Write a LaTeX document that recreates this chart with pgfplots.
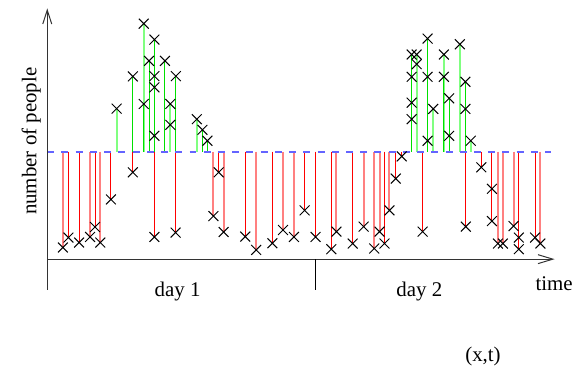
\documentclass[border=0pt]{standalone}
\usepackage{pgfplots}
\pgfplotsset{compat=1.18}
\usepackage{pgfplotstable}
\usepackage{fontspec}
\setmainfont{Liberation Serif}
\usetikzlibrary{arrows.meta}
\definecolor{redS}{HTML}{FF0000}
\definecolor{redL}{HTML}{FF8080}
\definecolor{grnS}{HTML}{00E000}
\definecolor{grnL}{HTML}{80FF80}
\definecolor{thrblue}{RGB}{100,100,255}

% y = 152 - pixel row (threshold at 0)
\pgfplotstableread{
x y
68.3 -86.3
79 -91.3
95 -75.7
111 -48
133 -20.7
154.7 -85.7
176 -81.3
219.3 -20.7
246 -85.3
273.3 -92
305.7 -59
316.7 -85.7
332.5 -98
354 -92.3
386 -92.3
397.3 -27
403.3 -4.7
424.3 -80.3
467.7 -75.3
483.3 -15.7
494 -37.3
494 -69.7
521 -86.3
521 -98
537.3 -86.3
}\redstrong
\pgfplotstableread{
x y
62.7 -96.3
90 -85.7
100.3 -91.3
214 -64.7
224.3 -80.7
257 -98.7
284 -78.7
295 -85.7
337.7 -80.3
365 -75.3
375.7 -97.3
381 -80.3
391 -59
500 -92.3
505 -92.3
515.7 -74.7
542.7 -92.3
}\redlight
\pgfplotstableread{
x y
133 75.7
144 48
149.3 91.3
154.7 112.7
154.7 76
154.7 64.7
154.7 16
165.3 91.3
176.3 76
203 22
208 11
413.3 97.7
413.3 75.3
413.3 49.3
413.3 32.7
429.3 113.7
429.3 75.3
429.3 11
445.7 75.3
451 53.7
451 16
467.3 70.3
467.3 43
}\grnstrong
\pgfplotstableread{
x y
116.7 43.3
144 128.7
170.7 48
170.7 27
197.3 32.7
418.3 97.7
418.3 88
435 43
445.7 97.7
461.7 108
472.7 11
}\grnlight

\begin{document}
\begin{tikzpicture}
\begin{axis}[
  scale only axis, width=576pt, height=369pt,
  xmin=-0.5, xmax=575.5, ymin=-216.5, ymax=152.5,
  hide axis, clip=false,
]
\path (rel axis cs:0,0) rectangle (rel axis cs:1,1);
% stems
\addplot[ycomb, draw=redL, line width=2pt, mark=none] table {\redlight};
\addplot[ycomb, draw=redS, line width=1pt, mark=none] table {\redstrong};
\addplot[ycomb, draw=grnL, line width=2pt, mark=none] table {\grnlight};
\addplot[ycomb, draw=grnS, line width=1pt, mark=none] table {\grnstrong};
% threshold
\addplot[draw=thrblue, line width=2pt, dash pattern=on 7pt off 7.3pt, mark=none] coordinates {(47,0) (553,0)};
% crosses
\addplot[only marks, mark=x, mark size=7pt, black, line width=1pt] table {\redlight};
\addplot[only marks, mark=x, mark size=7pt, black, line width=1pt] table {\redstrong};
\addplot[only marks, mark=x, mark size=7pt, black, line width=1pt] table {\grnlight};
\addplot[only marks, mark=x, mark size=7pt, black, line width=1pt] table {\grnstrong};
% axes
\draw[black!80, line width=1pt, -{Straight Barb[length=14pt,width=9pt]}] (axis cs:47,-139) -- (axis cs:47,144);
\draw[black!80, line width=1pt, -{Straight Barb[length=15pt,width=9pt]}] (axis cs:47,-108) -- (axis cs:557,-108);
\draw[black, line width=1pt] (axis cs:316.5,-108) -- (axis cs:316.5,-139);
% labels
\node[anchor=base, font=\fontsize{21}{25}\selectfont] at (axis cs:178,-146) {day 1};
\node[anchor=base, font=\fontsize{21}{25}\selectfont] at (axis cs:421,-146) {day 2};
\node[anchor=base, font=\fontsize{21}{25}\selectfont] at (axis cs:556.5,-139.7) {time};
\node[anchor=base, font=\fontsize{21}{25}\selectfont] at (axis cs:485,-211) {(x,t)};
\node[anchor=base, rotate=90, font=\fontsize{21}{25}\selectfont] at (axis cs:36,10.5) {number of people};
\end{axis}
\end{tikzpicture}
\end{document}
